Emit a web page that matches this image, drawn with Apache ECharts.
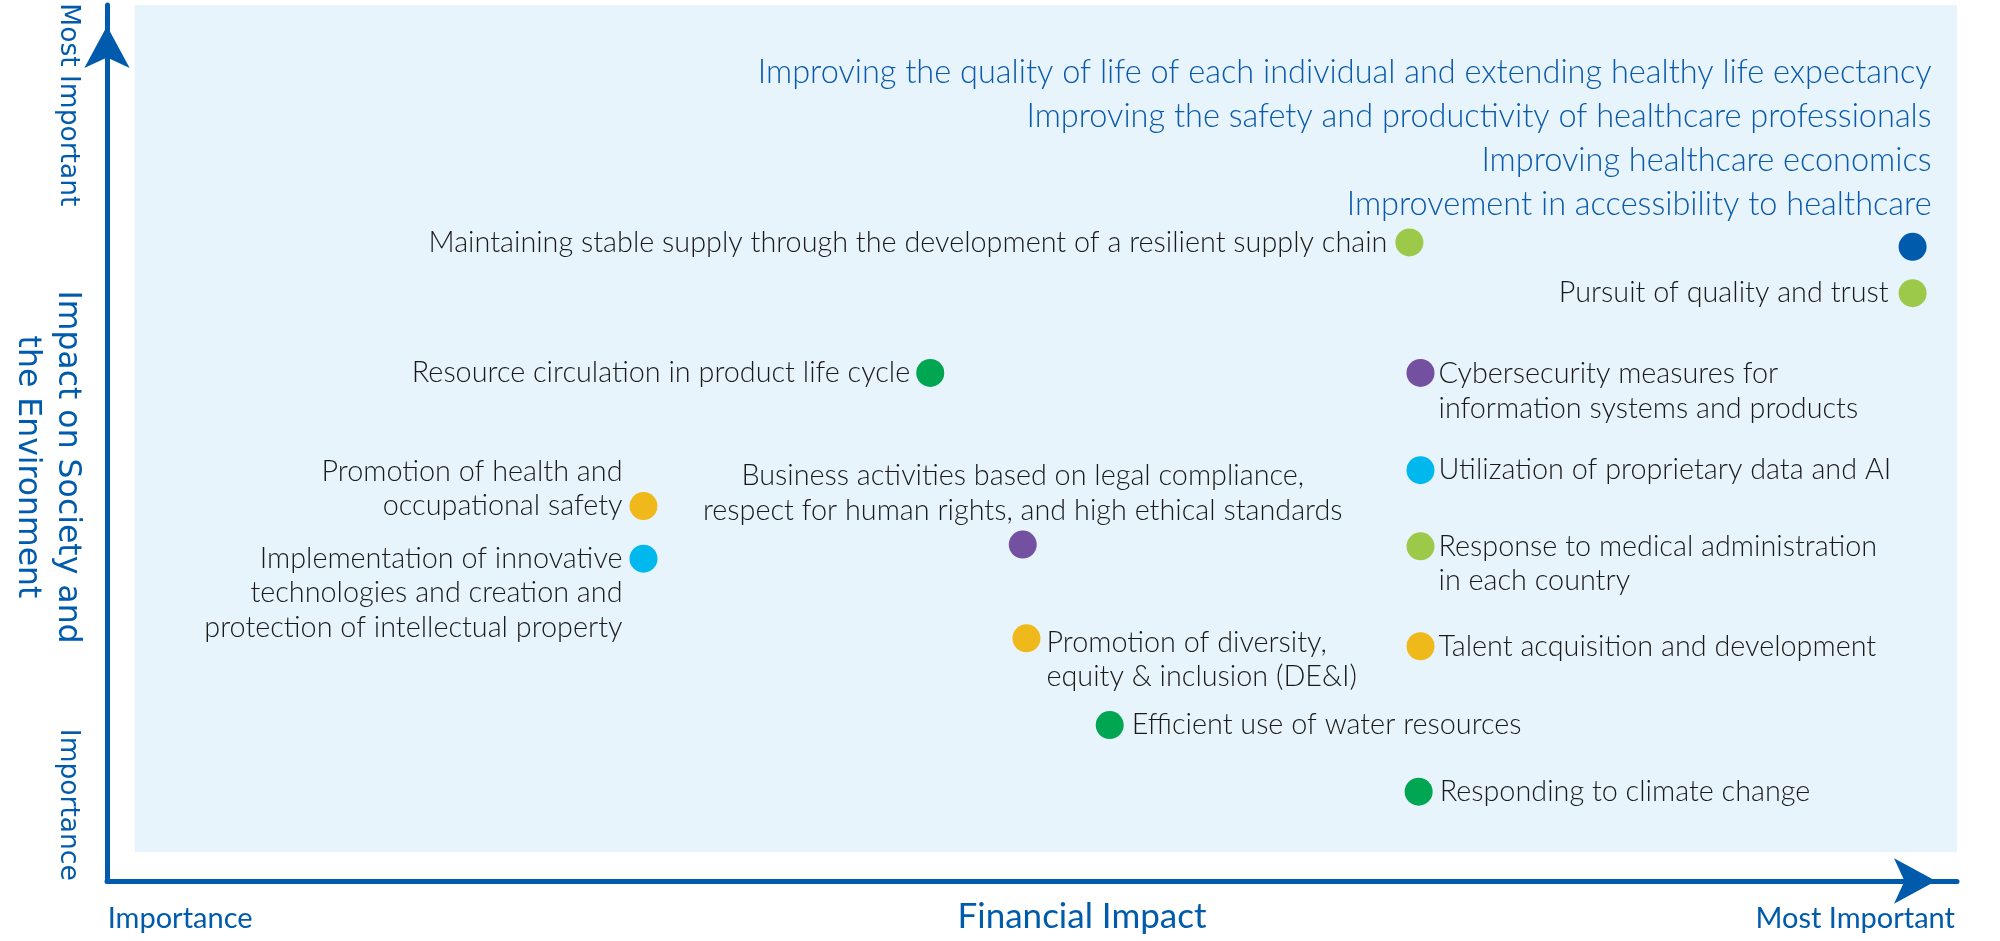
<!DOCTYPE html>
<html><head><meta charset="utf-8">
<script src="https://cdn.jsdelivr.net/npm/echarts@6/dist/echarts.min.js"></script>
<style>html,body{margin:0;padding:0;background:#fff}#c{width:2000px;height:941px}</style>
</head><body><div id="c"></div>
<script>
// ---- data ----
const topics = [
  'Improving the quality of life of each individual and extending healthy life expectancy\nImproving the safety and productivity of healthcare professionals\nImproving healthcare economics\nImprovement in accessibility to healthcare',
  'Maintaining stable supply through the development of a resilient supply chain',
  'Pursuit of quality and trust',
  'Resource circulation in product life cycle',
  'Cybersecurity measures for\ninformation systems and products',
  'Utilization of proprietary data and AI',
  'Business activities based on legal compliance,\nrespect for human rights, and high ethical standards',
  'Response to medical administration\nin each country',
  'Promotion of diversity,\nequity & inclusion (DE&I)',
  'Talent acquisition and development',
  'Promotion of health and\noccupational safety',
  'Implementation of innovative\ntechnologies and creation and\nprotection of intellectual property',
  'Efficient use of water resources',
  'Responding to climate change'
];
const financialImpact = [97.6, 70.4, 97.6, 44.5, 71.0, 71.0, 49.5, 71.0, 49.7, 71.0, 29.0, 29.0, 54.2, 70.9];
const societalImpact  = [72.4, 72.9, 67.1, 58.0, 58.0, 46.9, 38.4, 38.2, 27.7, 26.8, 42.8, 36.8, 17.8, 10.2];
const topicGroup = ['purpose', 'quality', 'quality', 'environment', 'governance', 'innovation', 'governance',
                    'quality', 'people', 'people', 'people', 'innovation', 'environment', 'environment'];
const xTickValues = [3.95, 94.5];
const xTickLabels = ['Importance', 'Most Important'];
const yTickValues = [8.7, 88.6];
const yTickLabels = ['Importance', 'Most Important'];
const xAxisTitle = 'Financial Impact';
const yAxisTitle = 'Impact on Society and\nthe Environment';
const plotArea = [[1.5, 3.3], [100, 100]];

// ---- styling ----
const BLUE = '#005bac';
const groupColor = {
  purpose: '#005bac', quality: '#9dc94a', environment: '#00a651',
  governance: '#7350a0', innovation: '#00b8ee', people: '#f0b91b'
};
const LH = 34.5;
const labelLayout = [
  {position: 'top', align: 'right', offset: [19, 1], distance: 7, color: '#0a5aab', fontSize: 32.5, lineHeight: 44, fontWeight: 300},
  {position: 'left', distance: 8},
  {position: 'left', distance: 10},
  {position: 'left', distance: 6},
  {position: 'right', distance: 4, offset: [0, LH / 2 + 1]},
  {position: 'right', distance: 4},
  {position: 'top', distance: 3},
  {position: 'right', distance: 4, offset: [0, LH / 2]},
  {position: 'right', distance: 6, offset: [0, LH / 2 + 4]},
  {position: 'right', distance: 4},
  {position: 'left', distance: 7, offset: [0, -LH / 2]},
  {position: 'left', distance: 7, offset: [0, LH]},
  {position: 'right', distance: 8},
  {position: 'right', distance: 7}
];

const points = topics.map((t, i) => ({
  name: t,
  value: [financialImpact[i], societalImpact[i]],
  itemStyle: {color: groupColor[topicGroup[i]], opacity: 1},
  label: Object.assign({show: true, formatter: '{b}'}, labelLayout[i])
}));

const axisLineStyle = {
  show: true, symbol: ['none', 'arrow'], symbolSize: [34, 42], symbolOffset: [0, -21],
  lineStyle: {color: BLUE, width: 5}
};

const chart = echarts.init(document.getElementById('c'), null, {renderer: 'canvas'});
chart.setOption({
  animation: false,
  grid: {left: 107, right: 43, top: 5, bottom: 60, containLabel: false, outerBoundsMode: 'none'},
  xAxis: {
    type: 'value', min: 0, max: 100,
    axisLine: axisLineStyle, axisTick: {show: false}, splitLine: {show: false},
    axisLabel: {
      customValues: xTickValues, margin: 23, color: BLUE, fontSize: 29,
      fontFamily: 'Lato', fontWeight: 400,
      formatter: (v) => xTickLabels[xTickValues.indexOf(v)]
    },
    name: xAxisTitle, nameLocation: 'middle', nameGap: 18, nameMoveOverlap: false,
    nameTextStyle: {color: BLUE, fontSize: 35, fontFamily: 'Lato', padding: [0, 0, 0, 100]}
  },
  yAxis: {
    type: 'value', min: 0, max: 100,
    axisLine: axisLineStyle, axisTick: {show: false}, splitLine: {show: false},
    axisLabel: {
      customValues: yTickValues, margin: 26, color: BLUE, fontSize: 26.5, rotate: -90,
      fontFamily: 'DejaVu Sans',
      formatter: (v) => yTickLabels[yTickValues.indexOf(v)]
    },
    name: yAxisTitle, nameLocation: 'middle', nameGap: 20, nameRotate: -90, nameMoveOverlap: false,
    nameTextStyle: {color: BLUE, fontSize: 31.5, lineHeight: 40, fontFamily: 'DejaVu Sans', padding: [0, 0, 0, 48]}
  },
  series: [{
    type: 'scatter',
    symbolSize: 28,
    z: 3,
    data: points,
    itemStyle: {opacity: 1},
    label: {color: '#1a1a1a', fontSize: 28.8, lineHeight: LH, fontFamily: 'Lato', fontWeight: 300, opacity: 1},
    emphasis: {disabled: true},
    markArea: {
      silent: true,
      itemStyle: {color: '#e8f4fc', opacity: 1},
      data: [[{coord: plotArea[0]}, {coord: plotArea[1]}]]
    }
  }]
});
</script>
</body></html>
